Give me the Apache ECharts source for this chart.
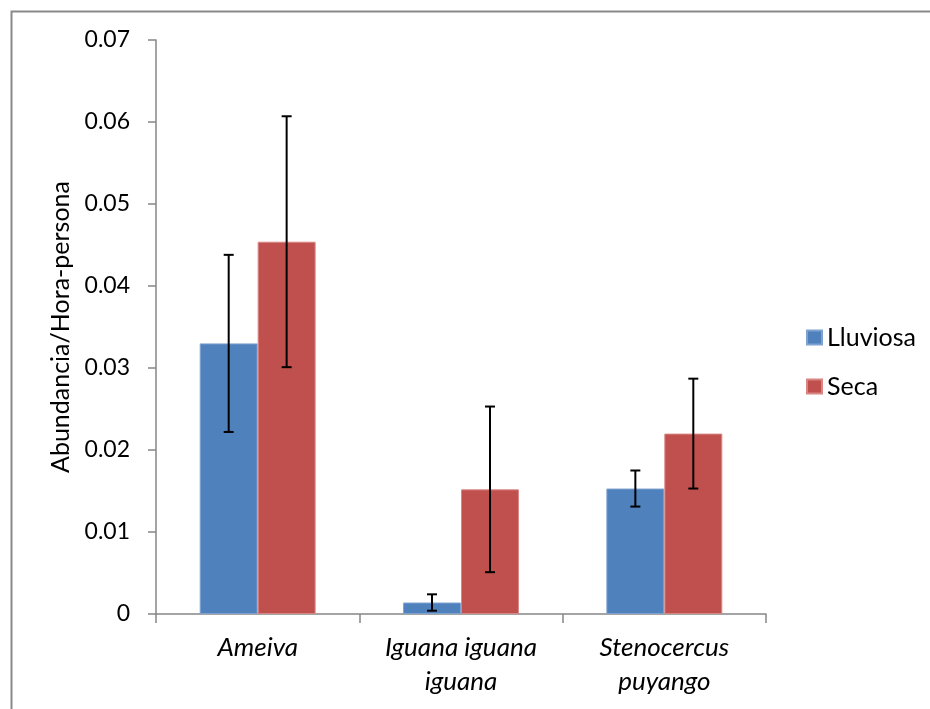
<!DOCTYPE html>
<html>
<head>
<meta charset="utf-8">
<script src="https://cdn.jsdelivr.net/npm/echarts@6/dist/echarts.min.js"></script>
<style>
html,body{margin:0;padding:0;background:#fff;}
#chart{width:930px;height:709px;}
</style>
</head>
<body>
<div id="chart"></div>
<script>
var categories = ['Ameiva', 'Iguana iguana\niguana', 'Stenocercus\npuyango'];
var seriesNames = ['Lluviosa', 'Seca'];
var lluviosa = [0.0330, 0.0014, 0.0153];
var seca = [0.0454, 0.0152, 0.0220];
var lluviosaErr = [0.0108, 0.0010, 0.0022];
var secaErr = [0.0153, 0.0101, 0.0067];
var yTicks = [0, 0.01, 0.02, 0.03, 0.04, 0.05, 0.06, 0.07];

var FONT = 'Lato';
var colors = ['#4F81BD', '#C0504D'];
var borderColors = ['#7fa3d0', '#d98584'];
var CAT_GAP = 0.43;

function errData(vals, errs) {
  return vals.map(function (v, i) { return [i, v - errs[i], v + errs[i]]; });
}

function makeErr(idx) {
  return function (params, api) {
    var i = api.value(0);
    var lo = api.coord([i, api.value(1)]);
    var hi = api.coord([i, api.value(2)]);
    var band = api.size([1, 0])[0];
    var bw = band * (1 - CAT_GAP) / 2;
    var x = lo[0] + (idx === 0 ? -bw / 2 : bw / 2);
    var cap = 5;
    var st = { stroke: '#000', lineWidth: 2 };
    return {
      type: 'group',
      children: [
        { type: 'line', shape: { x1: x, y1: lo[1], x2: x, y2: hi[1] }, style: st },
        { type: 'line', shape: { x1: x - cap, y1: lo[1], x2: x + cap, y2: lo[1] }, style: st },
        { type: 'line', shape: { x1: x - cap, y1: hi[1], x2: x + cap, y2: hi[1] }, style: st }
      ]
    };
  };
}

var chart = echarts.init(document.getElementById('chart'), null, { renderer: 'canvas' });
chart.setOption({
  backgroundColor: '#fff',
  animation: false,
  graphic: [{
    type: 'rect', left: 9, top: 9, z: -1,
    shape: { width: 1000, height: 1000 },
    style: { fill: 'none', stroke: '#898989', lineWidth: 2 }
  }],
  grid: { left: 156, right: 164, top: 40, bottom: 95, containLabel: false },
  legend: {
    orient: 'vertical',
    left: 806, top: 325, padding: 0,
    itemWidth: 15, itemHeight: 14, itemGap: 24,
    icon: 'rect',
    data: seriesNames,
    textStyle: { fontFamily: FONT, fontSize: 25, color: '#000', lineHeight: 24 }
  },
  xAxis: {
    type: 'category',
    data: categories,
    axisLine: { lineStyle: { color: '#868686', width: 1.5 } },
    axisTick: { show: true, length: 9, lineStyle: { color: '#868686', width: 1.5 } },
    axisLabel: {
      color: '#000', fontFamily: FONT, fontSize: 26, fontStyle: 'italic',
      lineHeight: 34, margin: 17, interval: 0
    }
  },
  yAxis: {
    type: 'value',
    min: 0, max: 0.07, interval: 0.01,
    name: 'Abundancia/Hora-persona',
    nameLocation: 'middle',
    nameGap: 57,
    nameRotate: 90,
    nameTextStyle: { color: '#000', fontFamily: FONT, fontSize: 25 },
    axisLine: { show: true, lineStyle: { color: '#868686', width: 1.5 } },
    axisTick: { show: true, length: 8, lineStyle: { color: '#868686', width: 1.5 } },
    splitLine: { show: false },
    axisLabel: {
      color: '#000', fontFamily: FONT, fontSize: 23, margin: 26,
      formatter: function (v) {
        for (var k = 0; k < yTicks.length; k++) {
          if (Math.abs(yTicks[k] - v) < 1e-9) return String(yTicks[k]);
        }
        return '';
      }
    }
  },
  series: [
    {
      name: seriesNames[0], type: 'bar', data: lluviosa,
      barGap: '0%', barCategoryGap: (CAT_GAP * 100) + '%',
      itemStyle: { color: colors[0], borderColor: borderColors[0], borderWidth: 1 }
    },
    {
      name: seriesNames[1], type: 'bar', data: seca,
      barGap: '0%', barCategoryGap: (CAT_GAP * 100) + '%',
      itemStyle: { color: colors[1], borderColor: borderColors[1], borderWidth: 1 }
    },
    {
      type: 'custom', name: 'errL', renderItem: makeErr(0),
      data: errData(lluviosa, lluviosaErr), z: 10, silent: true,
      encode: { x: 0, y: [1, 2] }
    },
    {
      type: 'custom', name: 'errS', renderItem: makeErr(1),
      data: errData(seca, secaErr), z: 10, silent: true,
      encode: { x: 0, y: [1, 2] }
    }
  ]
});
</script>
</body>
</html>
